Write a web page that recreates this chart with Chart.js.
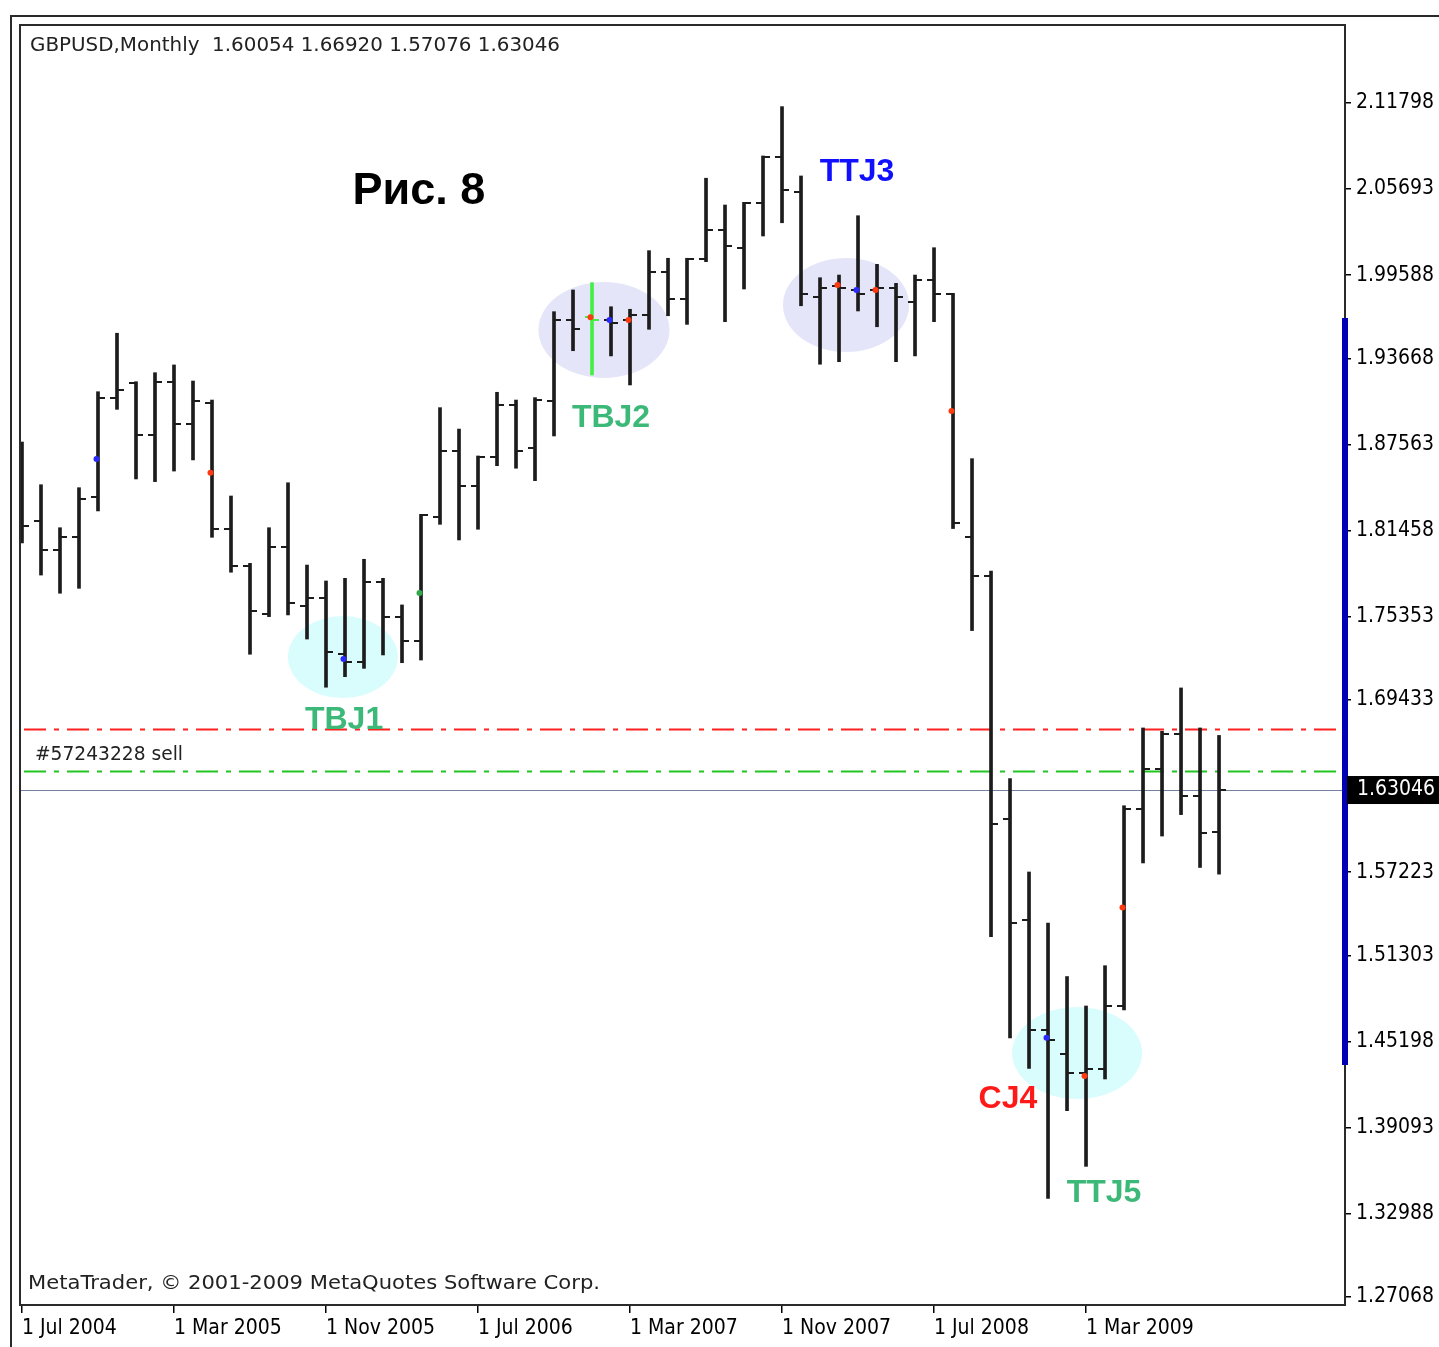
<!DOCTYPE html>
<html><head><meta charset="utf-8">
<script src="https://cdn.jsdelivr.net/npm/chart.js@4.4.1/dist/chart.umd.min.js"></script>
<style>html,body{margin:0;padding:0;background:#fff;overflow:hidden}#wrap{position:relative;width:1439px;height:1347px}</style>
</head><body><div id="wrap"><canvas id="c" width="1439" height="1347"></canvas></div>
<script>
// ---------- data ----------
const months = ['Jul 2004','Aug 2004','Sep 2004','Oct 2004','Nov 2004','Dec 2004',
 'Jan 2005','Feb 2005','Mar 2005','Apr 2005','May 2005','Jun 2005','Jul 2005','Aug 2005','Sep 2005','Oct 2005','Nov 2005','Dec 2005',
 'Jan 2006','Feb 2006','Mar 2006','Apr 2006','May 2006','Jun 2006','Jul 2006','Aug 2006','Sep 2006','Oct 2006','Nov 2006','Dec 2006',
 'Jan 2007','Feb 2007','Mar 2007','Apr 2007','May 2007','Jun 2007','Jul 2007','Aug 2007','Sep 2007','Oct 2007','Nov 2007','Dec 2007',
 'Jan 2008','Feb 2008','Mar 2008','Apr 2008','May 2008','Jun 2008','Jul 2008','Aug 2008','Sep 2008','Oct 2008','Nov 2008','Dec 2008',
 'Jan 2009','Feb 2009','Mar 2009','Apr 2009','May 2009','Jun 2009','Jul 2009','Aug 2009','Sep 2009','Oct 2009'];
const opens  = [1.8300,1.8216,1.8008,1.8102,1.8386,1.9089,1.9191,1.8822,1.9200,1.8900,1.9049,1.8159,1.7894,1.7554,1.8027,1.7610,
 1.7669,1.7268,1.7211,1.7779,1.7535,1.7362,1.8240,1.8710,1.8462,1.8670,1.9037,1.8730,1.9067,1.9640,1.9659,1.9640,
 1.9640,1.9675,1.9978,1.9789,2.0071,2.0279,2.0149,2.0468,2.0794,2.0546,1.9805,1.9881,1.9853,1.9853,1.9869,1.9770,
 1.9924,1.9822,1.8102,1.7820,1.6096,1.5379,1.4602,1.4431,1.4293,1.4322,1.4769,1.6173,1.6454,1.6700,1.6264,1.60054];
const highs  = [1.8774,1.8471,1.8166,1.8450,1.9131,1.9546,1.9202,1.9266,1.9321,1.9207,1.9072,1.8391,1.7913,1.8166,1.8485,1.7901,
 1.7788,1.7807,1.7942,1.7807,1.7618,1.8261,1.9018,1.8866,1.8675,1.9127,1.9072,1.9089,1.9699,1.9853,1.9905,1.9734,
 1.9716,2.0132,2.0078,2.0078,2.0646,2.0456,2.0475,2.0804,2.1154,2.0662,1.9940,1.9959,2.0380,2.0035,1.9900,1.9959,
 2.0153,1.9829,1.8656,1.7859,1.6386,1.5723,1.5361,1.4981,1.4772,1.5058,1.6193,1.6745,1.6721,1.7029,1.6745,1.66920];
const lows   = [1.8058,1.7830,1.7701,1.7736,1.8285,1.9006,1.8512,1.8493,1.8568,1.8647,1.8098,1.7850,1.7268,1.7535,1.7547,1.7376,
 1.7034,1.7109,1.7168,1.7263,1.7208,1.7227,1.8190,1.8079,1.8155,1.8606,1.8588,1.8500,1.8817,1.9422,1.9250,1.9385,
 1.9179,1.9574,1.9670,1.9609,2.0054,1.9628,1.9860,2.0236,2.0330,1.9741,1.9326,1.9344,1.9704,1.9592,1.9344,1.9385,
 1.9628,1.8160,1.7436,1.5264,1.4546,1.4329,1.3406,1.4029,1.3634,1.4254,1.4744,1.5787,1.5978,1.6130,1.5755,1.57076];
const closes = [1.8178,1.8008,1.8102,1.8368,1.9089,1.9143,1.8822,1.9200,1.8900,1.9067,1.8159,1.7894,1.7573,1.8027,1.7630,1.7669,
 1.7286,1.7211,1.7779,1.7535,1.7362,1.8256,1.8710,1.8462,1.8670,1.9037,1.8710,1.9072,1.9640,1.9576,1.9640,1.9621,
 1.9675,1.9978,1.9789,2.0071,2.0279,2.0165,2.0468,2.0799,2.0562,1.9822,1.9865,1.9865,1.9824,1.9869,1.9805,1.9924,
 1.9822,1.8196,1.7820,1.6060,1.5361,1.4602,1.4529,1.4293,1.4322,1.4769,1.6173,1.6454,1.6700,1.6264,1.5998,1.63046];

const xTickIndex  = [0,8,16,24,32,40,48,56];
const xTickLabels = ['1 Jul 2004','1 Mar 2005','1 Nov 2005','1 Jul 2006','1 Mar 2007','1 Nov 2007','1 Jul 2008','1 Mar 2009'];
const yTickValues = [2.11798,2.05693,1.99588,1.93668,1.87563,1.81458,1.75353,1.69433,1.57223,1.51303,1.45198,1.39093,1.32988,1.27068];
const priceMin = 1.26502, priceMax = 2.17333;
const currentPrice = 1.63046;
const orderLevelPrices = [1.67376, 1.64395];   // SL/TP style levels
const rangeMarkerPrices = [1.96541, 1.43533];  // blue bar on the price axis
const highlightBar = 30;

const markerBars   = [4,10,17,21,30,31,32,43,44,45,49,54,56,58];
const markerPrices = [1.86536,1.85563,1.72343,1.77027,1.96591,1.96399,1.96399,1.98883,1.98528,1.98528,1.89942,1.45463,1.42753,1.54709];
const markerKinds  = ['b','r','b','g','r','b','r','r','b','r','r','b','r','r'];

const zoneNames       = ['TBJ1','TBJ2','TTJ3','TTJ5'];
const zoneCenterBar   = [16.89, 30.63, 43.37, 55.53];
const zoneCenterPrice = [1.72485, 1.95690, 1.97464, 1.44384];
const zoneHalfBars    = [2.89, 3.45, 3.32, 3.42];
const zoneHalfPrice   = [0.02909, 0.03406, 0.03335, 0.03264];
const zoneKinds       = ['c','l','l','c'];

const patternLabels     = ['TBJ1','TBJ2','TTJ3','CJ4','TTJ5'];
const patternLabelBar   = [16.95, 31.0, 43.95, 51.89, 56.95];
const patternLabelPrice = [1.68014, 1.89445, 2.06902, 1.41120, 1.34449];
const patternKinds      = ['g','g','b','r','g'];

const figureTitle = 'Рис. 8';
const figureTitleBar = 20.89, figureTitlePrice = 2.05482;
const headerText = 'GBPUSD,Monthly  1.60054 1.66920 1.57076 1.63046';
const copyrightText = 'MetaTrader, © 2001-2009 MetaQuotes Software Corp.';
const orderText = '#57243228 sell';

// ---------- styles ----------
const AXIS_FONT = "'DejaVu Sans Condensed','DejaVu Sans',sans-serif";
const BAR_COLOR = '#1c1c1c';
const HIGHLIGHT_COLOR = '#44ee44';
const markerColor = {b:'#2a2aff', r:'#ff3a10', g:'#33a84a'};
const zoneColor = {c:'rgba(210,252,252,0.85)', l:'rgba(226,226,248,0.9)'};
const labelColor = {g:'#3cb878', b:'#1010ff', r:'#ff1a1a'};
const levelColor = ['#ff2020', '#22c422'];

function fitText(ctx, text, x, y, width, font, color) {
  ctx.save();
  ctx.font = font;
  const w = ctx.measureText(text).width;
  ctx.translate(x, y);
  ctx.scale(width / w, 1);
  ctx.fillStyle = color;
  ctx.textAlign = 'left';
  ctx.textBaseline = 'middle';
  ctx.fillText(text, 0, 0);
  ctx.restore();
}

const overlay = {
  id: 'overlay',
  beforeDraw(chart) {
    const ctx = chart.ctx;
    ctx.save(); ctx.fillStyle = '#fff'; ctx.fillRect(0, 0, chart.width, chart.height); ctx.restore();
  },
  beforeDatasetsDraw(chart) {
    const ctx = chart.ctx, xs = chart.scales.x, ys = chart.scales.y, a = chart.chartArea;
    ctx.save();
    ctx.beginPath(); ctx.rect(a.left, a.top, a.right - a.left, a.bottom - a.top); ctx.clip();
    // zones
    zoneNames.forEach((n, i) => {
      const cx = xs.getPixelForValue(zoneCenterBar[i]);
      const cy = ys.getPixelForValue(zoneCenterPrice[i]);
      const rx = Math.abs(xs.getPixelForValue(zoneCenterBar[i] + zoneHalfBars[i]) - cx);
      const ry = Math.abs(ys.getPixelForValue(zoneCenterPrice[i] + zoneHalfPrice[i]) - cy);
      ctx.beginPath(); ctx.ellipse(cx, cy, rx, ry, 0, 0, Math.PI * 2);
      ctx.fillStyle = zoneColor[zoneKinds[i]]; ctx.fill();
    });
    // order levels
    orderLevelPrices.forEach((p, i) => {
      const y = Math.round(ys.getPixelForValue(p)) + 0.5;
      ctx.beginPath(); ctx.setLineDash([22, 8, 5, 8]); ctx.lineWidth = 2; ctx.strokeStyle = levelColor[i];
      ctx.moveTo(a.left + 4, y); ctx.lineTo(a.right, y); ctx.stroke();
    });
    ctx.setLineDash([]);
    // current price line
    const yp = Math.round(ys.getPixelForValue(currentPrice)) + 0.5;
    ctx.beginPath(); ctx.lineWidth = 1.2; ctx.strokeStyle = '#7282a0';
    ctx.moveTo(a.left, yp); ctx.lineTo(a.right, yp); ctx.stroke();
    ctx.restore();
  },
  afterDatasetDraw(chart, args) {
    if (args.index !== 1) return;
    const ctx = chart.ctx, xs = chart.scales.x, ys = chart.scales.y, a = chart.chartArea;
    ctx.save();
    ctx.beginPath(); ctx.rect(a.left, a.top, a.right - a.left, a.bottom - a.top); ctx.clip();
    for (let i = 0; i < opens.length; i++) {
      const x = xs.getPixelForValue(i);
      ctx.fillStyle = i === highlightBar ? HIGHLIGHT_COLOR : BAR_COLOR;
      const yo = Math.round(ys.getPixelForValue(opens[i]));
      const yc = Math.round(ys.getPixelForValue(closes[i]));
      ctx.fillRect(Math.round(x) - 7, yo - 1, 6, 2);
      ctx.fillRect(Math.round(x) + 1, yc - 1, 6, 2);
    }
    ctx.restore();
  },
  afterDraw(chart) {
    const ctx = chart.ctx, xs = chart.scales.x, ys = chart.scales.y, a = chart.chartArea;
    ctx.save();
    // pattern labels
    ctx.textAlign = 'center'; ctx.textBaseline = 'middle';
    ctx.font = "bold 32px 'Liberation Sans', Arial, sans-serif";
    patternLabels.forEach((t, i) => {
      ctx.fillStyle = labelColor[patternKinds[i]];
      ctx.fillText(t, xs.getPixelForValue(patternLabelBar[i]), ys.getPixelForValue(patternLabelPrice[i]));
    });
    ctx.font = "bold 45px 'Liberation Sans', Arial, sans-serif";
    ctx.fillStyle = '#000';
    ctx.fillText(figureTitle, xs.getPixelForValue(figureTitleBar), ys.getPixelForValue(figureTitlePrice));
    // texts
    fitText(ctx, headerText, a.left + 10, a.top + 21, 530, "20px 'DejaVu Sans', sans-serif", '#222');
    fitText(ctx, copyrightText, a.left + 8, a.bottom - 21, 572, "20px 'DejaVu Sans', sans-serif", '#222');
    fitText(ctx, orderText, a.left + 15, ys.getPixelForValue(orderLevelPrices[1]) - 16, 148, "20px 'DejaVu Sans', sans-serif", '#222');
    // frames
    ctx.strokeStyle = '#2a2a2a'; ctx.lineWidth = 2;
    ctx.beginPath(); ctx.moveTo(11, chart.height); ctx.lineTo(11, 16); ctx.lineTo(chart.width, 16); ctx.stroke();
    ctx.strokeRect(a.left, a.top, a.right - a.left, a.bottom - a.top);
    // blue range marker on the axis
    const y1 = ys.getPixelForValue(rangeMarkerPrices[0]), y2 = ys.getPixelForValue(rangeMarkerPrices[1]);
    ctx.fillStyle = '#0000b4';
    ctx.fillRect(a.right - 3, y1, 6, y2 - y1);
    // current price box
    const yp = ys.getPixelForValue(currentPrice);
    ctx.fillStyle = '#000';
    ctx.fillRect(a.right + 2, yp - 14, chart.width - a.right - 2, 28);
    ctx.fillStyle = '#fff'; ctx.textAlign = 'left'; ctx.textBaseline = 'middle';
    ctx.font = "21px " + AXIS_FONT;
    ctx.fillText(currentPrice.toFixed(5), a.right + 12, yp);
    ctx.restore();
  }
};

const barData = months.map((m, i) => ({x: i, y: [lows[i], highs[i]]}));
const markerData = markerBars.map((b, i) => ({x: b - 0.08, y: markerPrices[i]}));

new Chart(document.getElementById('c'), {
  type: 'bar',
  data: {
    datasets: [
      {type: 'scatter', data: markerData, pointRadius: 3, pointHoverRadius: 3, borderWidth: 0,
       pointBackgroundColor: markerKinds.map(k => markerColor[k]), clip: false},
      {type: 'bar', data: barData, barThickness: 3, borderWidth: 0, borderSkipped: false,
       backgroundColor: months.map((m, i) => i === highlightBar ? HIGHLIGHT_COLOR : BAR_COLOR)}
    ]
  },
  options: {
    responsive: false, animation: false, devicePixelRatio: 1,
    layout: {padding: {left: 20, top: 25, right: 0, bottom: 0}},
    plugins: {legend: {display: false}, tooltip: {enabled: false}, title: {display: false}},
    scales: {
      x: {
        type: 'linear', offset: false, min: -0.105, max: 69.63,
        afterBuildTicks: s => { s.ticks = xTickIndex.map(v => ({value: v})); },
        afterFit: s => { s.height = 42; },
        ticks: {callback: v => xTickLabels[xTickIndex.indexOf(v)], align: 'start', maxRotation: 0, minRotation: 0,
                autoSkip: false, padding: 3, color: '#000', font: {family: AXIS_FONT, size: 21}},
        grid: {offset: false, drawOnChartArea: false, drawTicks: true, tickLength: 8, color: '#000', lineWidth: 1.5},
        border: {display: false}
      },
      y: {
        type: 'linear', position: 'right', min: priceMin, max: priceMax,
        afterBuildTicks: s => { s.ticks = yTickValues.map(v => ({value: v})); },
        afterFit: s => { s.width = 94; },
        ticks: {callback: v => v.toFixed(5), padding: 5, color: '#000', font: {family: AXIS_FONT, size: 21}},
        grid: {offset: false, drawOnChartArea: false, drawTicks: true, tickLength: 6, color: '#000', lineWidth: 1.5},
        border: {display: true, color: '#000', width: 1.5}
      }
    }
  },
  plugins: [overlay]
});
</script></body></html>
